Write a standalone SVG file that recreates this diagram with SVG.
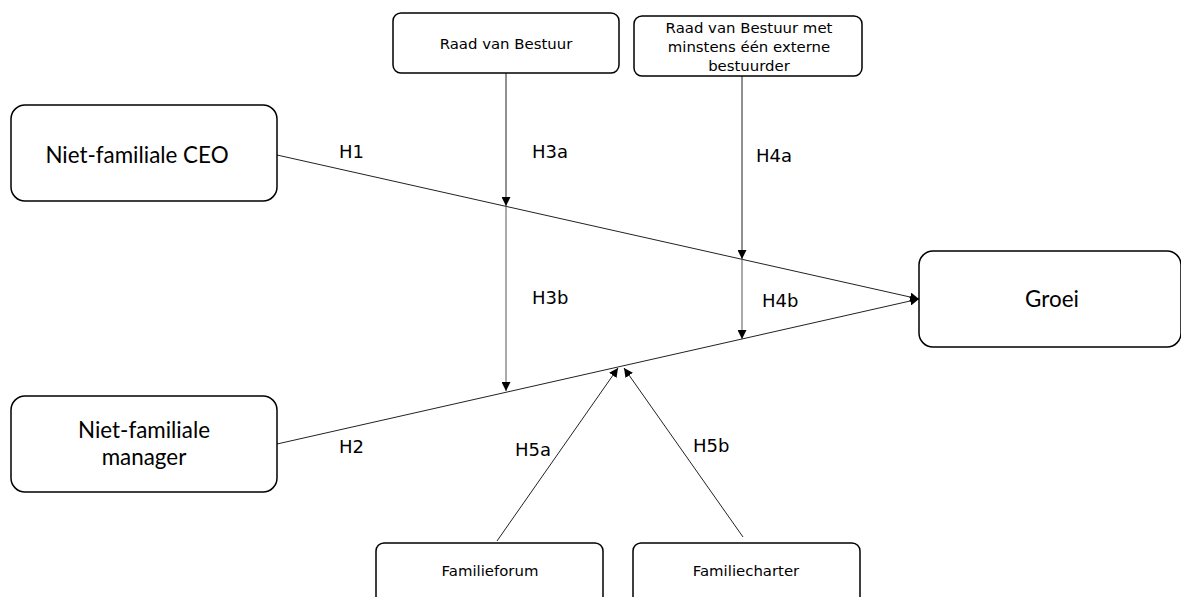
<svg xmlns="http://www.w3.org/2000/svg" width="1181" height="597" viewBox="0 0 1181 597">
<style>
.box{fill:#fff;stroke:#000;stroke-width:1.5}
.big{font-family:Lato,"Open Sans",sans-serif;font-size:22.4px;fill:#000;text-anchor:middle}
.small{font-family:"DejaVu Sans",Verdana,sans-serif;font-size:14.9px;fill:#000;text-anchor:middle}
.lbl{font-family:"DejaVu Sans",Verdana,sans-serif;font-size:18px;fill:#000}
.ln{stroke:#222;stroke-width:1;fill:none}
.ln2{stroke:#555;stroke-width:1;fill:none}
</style>
<defs>
<marker id="ah" viewBox="0 0 10 10" refX="10" refY="5" markerWidth="9" markerHeight="9" markerUnits="userSpaceOnUse" orient="auto">
<path d="M0,0 L10,5 L0,10 z" fill="#000"/>
</marker>
</defs>
<rect width="1181" height="597" fill="#fff"/>
<g id="connectors">
<line class="ln" x1="277" y1="155" x2="919" y2="299" marker-end="url(#ah)"/>
<line class="ln" x1="277" y1="444" x2="919" y2="299" marker-end="url(#ah)"/>
<line class="ln" x1="506" y1="73" x2="506" y2="206" marker-end="url(#ah)"/>
<line class="ln2" x1="506" y1="206" x2="506" y2="391" marker-end="url(#ah)"/>
<line class="ln" x1="742" y1="76" x2="742" y2="259" marker-end="url(#ah)"/>
<line class="ln2" x1="742" y1="259" x2="742" y2="339" marker-end="url(#ah)"/>
<line class="ln" x1="497" y1="541" x2="618" y2="368" marker-end="url(#ah)"/>
<line class="ln" x1="743" y1="537" x2="624" y2="368" marker-end="url(#ah)"/>
<text class="lbl" x="339" y="158">H1</text>
<text class="lbl" x="532" y="158">H3a</text>
<text class="lbl" x="756" y="162">H4a</text>
<text class="lbl" x="532" y="304">H3b</text>
<text class="lbl" x="762" y="307">H4b</text>
<text class="lbl" x="339" y="453">H2</text>
<text class="lbl" x="515" y="456">H5a</text>
<text class="lbl" x="693" y="452">H5b</text>
</g>
<g id="n_ceo">
<rect class="box" x="11" y="105" width="266" height="96" rx="14"/>
<text class="big" x="137" y="163">Niet-familiale CEO</text>
</g>
<g id="n_manager">
<rect class="box" x="11" y="396" width="266" height="96" rx="14"/>
<text class="big" x="144" y="438">Niet-familiale</text>
<text class="big" x="144" y="465">manager</text>
</g>
<g id="n_groei">
<rect class="box" x="919" y="251" width="262" height="96" rx="14"/>
<text class="big" x="1052" y="307">Groei</text>
</g>
<g id="n_rvb">
<rect class="box" x="393" y="13" width="226" height="60" rx="8"/>
<text class="small" x="506" y="49">Raad van Bestuur</text>
</g>
<g id="n_rvb_ext">
<rect class="box" x="634" y="16" width="228" height="60" rx="8"/>
<text class="small" x="749" y="33">Raad van Bestuur met</text>
<text class="small" x="749" y="51.5">minstens één externe</text>
<text class="small" x="749" y="70.5">bestuurder</text>
</g>
<g id="n_forum">
<rect class="box" x="376" y="543" width="227" height="70" rx="8"/>
<text class="small" x="490" y="576">Familieforum</text>
</g>
<g id="n_charter">
<rect class="box" x="633" y="543" width="227" height="70" rx="8"/>
<text class="small" x="746" y="576">Familiecharter</text>
</g>
</svg>
